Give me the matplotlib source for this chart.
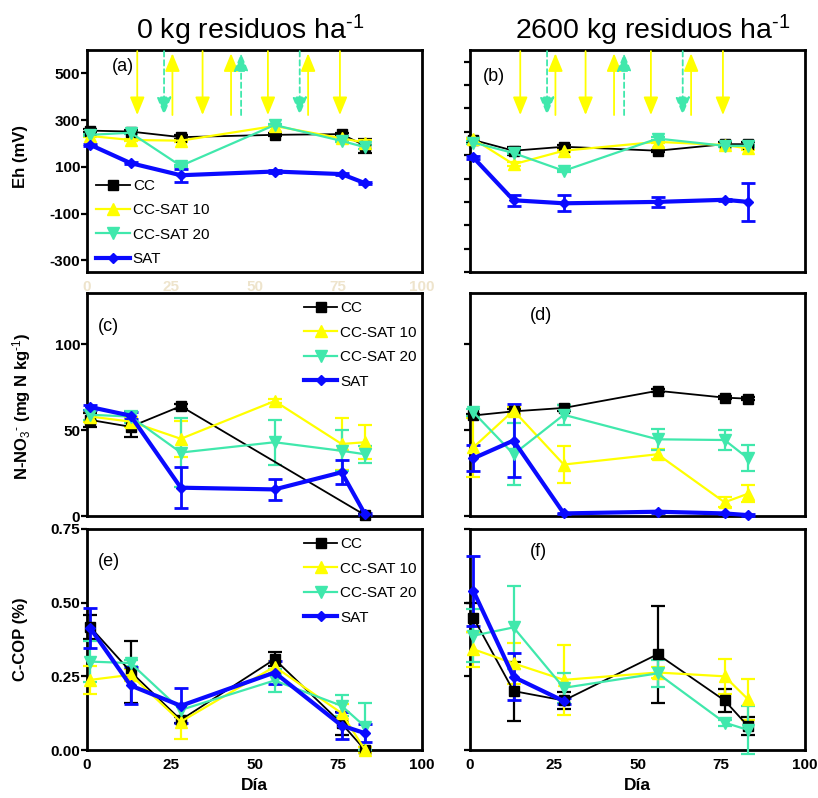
import numpy as np
import matplotlib
matplotlib.use("Agg")
import matplotlib.pyplot as plt

plt.rcParams["font.family"] = ["Liberation Sans", "DejaVu Sans"]
plt.rcParams["mathtext.fontset"] = "custom"
plt.rcParams["mathtext.rm"] = "Liberation Sans"
plt.rcParams["mathtext.it"] = "Liberation Sans:italic"
plt.rcParams["mathtext.bf"] = "Liberation Sans:bold"
plt.rcParams["axes.unicode_minus"] = False

# ---------------- data ----------------
days = [1, 13, 28, 56, 76, 83]
series_names = ["CC", "CC-SAT 10", "CC-SAT 20", "SAT"]

# Eh (mV), 0 kg residuos
eh0_cc = [255, 251, 227, 237, 240, 190]
eh0_cc_err = [8, 8, 8, 6, 6, 30]
eh0_s10 = [232, 215, 212, 275, 222, 204]
eh0_s10_err = [5, 5, 5, 5, 5, 10]
eh0_s20 = [237, 246, 104, 279, 211, 184]
eh0_s20_err = [5, 5, 5, 5, 5, 8]
eh0_sat = [194, 116, 64, 80, 69, 30]
eh0_sat_err = [5, 5, 28, 5, 5, 5]

# Eh (mV), 2600 kg residuos
eh26_cc = [165, 119, 136, 119, 147, 147]
eh26_cc_err = [10, 18, 8, 5, 8, 10]
eh26_s10 = [169, 61, 119, 157, 143, 129]
eh26_s10_err = [5, 8, 5, 5, 5, 5]
eh26_s20 = [154, 109, 33, 171, 140, 140]
eh26_s20_err = [5, 5, 5, 5, 5, 5]
eh26_sat = [90, -93, -106, -100, -91, -100]
eh26_sat_err = [5, 24, 34, 20, 5, 82]

# N-NO3- (mg N kg-1), 0 kg residuos
no0_cc_days = [1, 13, 28, 83]
no0_cc = [56, 52, 64, 0.5]
no0_cc_err = [4, 6, 1.5, 0.5]
no0_s10 = [58, 55, 45, 67, 42, 43]
no0_s10_err = [3, 3, 10.5, 1, 15, 10]
no0_s20 = [59, 58, 37, 43, 38, 36]
no0_s20_err = [3, 3.5, 20, 13, 12, 5]
no0_sat = [63.5, 58.5, 16.5, 15.5, 25.5, 1]
no0_sat_err = [1.5, 2, 12, 6, 7, 0.5]

# N-NO3- (mg N kg-1), 2600 kg residuos
no26_cc = [58.6, 61, 63, 73, 69, 68.4]
no26_cc_err = [1, 1.5, 2, 1, 1, 1]
no26_s10 = [40, 61.5, 30, 36, 8, 13]
no26_s10_err = [17, 2, 11, 3, 3, 5]
no26_s20 = [60.5, 36, 59, 44.7, 44.3, 33.6]
no26_s20_err = [2, 18, 6, 6, 6, 7.5]
no26_sat = [33.6, 44, 1.5, 2.5, 1.5, 0.5]
no26_sat_err = [7.5, 21.5, 0.5, 0.5, 0.5, 0.5]

# C-COP (%), 0 kg residuos
cop0_cc = [0.417, 0.266, 0.102, 0.308, 0.09, 0.0]
cop0_cc_err = [0.04, 0.105, 0.01, 0.024, 0.04, 0.01]
cop0_s10 = [0.238, 0.255, 0.096, 0.283, 0.125, 0.0]
cop0_s10_err = [0.047, 0.02, 0.06, 0.02, 0.03, 0.01]
cop0_s20 = [0.30, 0.295, 0.136, 0.236, 0.15, 0.079]
cop0_s20_err = [0.07, 0.01, 0.02, 0.038, 0.035, 0.08]
cop0_sat = [0.413, 0.219, 0.15, 0.263, 0.083, 0.057]
cop0_sat_err = [0.068, 0.062, 0.06, 0.04, 0.045, 0.03]

# C-COP (%), 2600 kg residuos
cop26_cc = [0.449, 0.20, 0.168, 0.325, 0.168, 0.081]
cop26_cc_err = [0.05, 0.1, 0.03, 0.165, 0.04, 0.03]
cop26_s10 = [0.342, 0.294, 0.238, 0.263, 0.25, 0.172]
cop26_s10_err = [0.06, 0.07, 0.12, 0.02, 0.06, 0.07]
cop26_s20 = [0.388, 0.416, 0.211, 0.26, 0.093, 0.068]
cop26_s20_err = [0.09, 0.14, 0.05, 0.045, 0.01, 0.08]
cop26_sat_days = [1, 13, 28]
cop26_sat = [0.54, 0.248, 0.166]
cop26_sat_err = [0.12, 0.08, 0.01]

# flooding / draining events (days)
yellow_down_days = [15, 34.5, 54, 75.5]
yellow_up_days = [25.5, 43, 66]
green_down_days = [23, 63.5]
green_up_days = [46]

x_ticks = [0, 25, 50, 75, 100]
eh_ticks_left = [-300, -100, 100, 300, 500]
eh_ticks_right = [-400, -300, -200, -100, 0, 100, 200, 300, 400, 500]
no_ticks = [0, 50, 100]
cop_ticks = [0.00, 0.25, 0.50, 0.75]

# ---------------- styles ----------------
YELLOW = "#FFFF00"
GREEN = "#40E8AC"
BLUE = "#0A0AFF"
styles = {
    "CC": dict(color="black", marker="s", ms=7, lw=1.3, elw=1.6),
    "CC-SAT 10": dict(color=YELLOW, marker="^", ms=8.5, lw=1.6, elw=1.6),
    "CC-SAT 20": dict(color=GREEN, marker="v", ms=8.5, lw=1.6, elw=1.6),
    "SAT": dict(color=BLUE, marker="D", ms=5, lw=3.0, elw=2.0),
}

W, H = 818, 798
fig = plt.figure(figsize=(W / 100, H / 100), dpi=100)


def make_axes(x0, x1, ytop, ybot):
    return fig.add_axes([x0 / W, 1 - ybot / H, (x1 - x0) / W, (ybot - ytop) / H])


ax_a = make_axes(87, 422, 50, 272)
ax_b = make_axes(470, 805, 50, 272)
ax_c = make_axes(87, 422, 293, 516)
ax_d = make_axes(470, 805, 293, 516)
ax_e = make_axes(87, 422, 529, 750)
ax_f = make_axes(470, 805, 529, 750)


def draw(ax, data):
    handles = []
    for name, (xs, ys, es) in zip(series_names, data):
        st = styles[name]
        cont = ax.errorbar(xs, ys, yerr=es, color=st["color"], marker=st["marker"],
                           ms=st["ms"], lw=st["lw"], elinewidth=st["elw"],
                           capsize=5, capthick=st["elw"], mec=st["color"],
                           clip_on=False, zorder=3)
        handles.append(cont[0])
    return handles


def style_axes(ax, ylim, yticks, show_ylabels, xlabels=None, xcolor="black"):
    ax.set_xlim(0, 100)
    ax.set_ylim(*ylim)
    ax.set_yticks(yticks)
    ax.set_xticks(x_ticks)
    for s in ax.spines.values():
        s.set_linewidth(2.0)
    ax.tick_params(axis="y", direction="out", length=4, width=1.6,
                   labelsize=11, labelleft=show_ylabels, pad=1)
    ax.tick_params(axis="x", length=0, labelsize=11, pad=6,
                   labelbottom=xlabels is not None, labelcolor=xcolor)
    for lab in ax.get_yticklabels() + ax.get_xticklabels():
        lab.set_fontweight("bold")


def arrows(ax):
    tr = ax.get_xaxis_transform()
    low, top_ = 0.707, 0.995
    props = dict(arrowstyle="-|>,head_length=1.1,head_width=0.45",
                 mutation_scale=10, shrinkA=0, shrinkB=0, lw=1.3)
    for d in yellow_down_days:
        ax.annotate("", xy=(d, low), xytext=(d, top_), xycoords=tr, textcoords=tr,
                    arrowprops=dict(color=YELLOW, **props))
    for d in yellow_up_days:
        ax.annotate("", xy=(d, 0.985), xytext=(d, low), xycoords=tr, textcoords=tr,
                    arrowprops=dict(color=YELLOW, **props))
    for d in green_down_days:
        ax.annotate("", xy=(d, low), xytext=(d, top_), xycoords=tr, textcoords=tr,
                    arrowprops=dict(color=GREEN, ls=(0, (3, 2)), **props))
    for d in green_up_days:
        ax.annotate("", xy=(d, 0.985), xytext=(d, low), xycoords=tr, textcoords=tr,
                    arrowprops=dict(color=GREEN, ls=(0, (3, 2)), **props))


legend_kw = dict(frameon=False, fontsize=11, handlelength=2.2, handletextpad=0.2,
                 labelspacing=0.68)

# (a) Eh, 0 kg
h = draw(ax_a, [(days, eh0_cc, eh0_cc_err), (days, eh0_s10, eh0_s10_err),
                (days, eh0_s20, eh0_s20_err), (days, eh0_sat, eh0_sat_err)])
style_axes(ax_a, (-350, 600), eh_ticks_left, True, xlabels=True, xcolor="#EEE4CC")
arrows(ax_a)
ax_a.legend(h, series_names, loc="lower left", bbox_to_anchor=(0.0, -0.015),
            borderaxespad=0.2, **legend_kw)
ax_a.set_ylabel("Eh (mV)", fontsize=12, fontweight="bold")
ax_a.yaxis.set_label_coords(-0.175, 0.52)

# (b) Eh, 2600 kg
draw(ax_b, [(days, eh26_cc, eh26_cc_err), (days, eh26_s10, eh26_s10_err),
            (days, eh26_s20, eh26_s20_err), (days, eh26_sat, eh26_sat_err)])
style_axes(ax_b, (-400, 550), eh_ticks_right, False)
arrows(ax_b)

# (c) N-NO3, 0 kg
h = draw(ax_c, [(no0_cc_days, no0_cc, no0_cc_err), (days, no0_s10, no0_s10_err),
                (days, no0_s20, no0_s20_err), (days, no0_sat, no0_sat_err)])
style_axes(ax_c, (0, 130), no_ticks, True)
ax_c.legend(h, series_names, loc="upper right", bbox_to_anchor=(1.01, 1.0),
            borderaxespad=0.15, **legend_kw)
ax_c.set_ylabel("N-NO$_3$$^{\\text{-}}$ (mg N kg$^{\\text{-1}}$)", fontsize=12,
                fontweight="bold")
ax_c.yaxis.set_label_coords(-0.16, 0.49)

# (d) N-NO3, 2600 kg
draw(ax_d, [(days, no26_cc, no26_cc_err), (days, no26_s10, no26_s10_err),
            (days, no26_s20, no26_s20_err), (days, no26_sat, no26_sat_err)])
style_axes(ax_d, (0, 130), no_ticks, False)

# (e) C-COP, 0 kg
h = draw(ax_e, [(days, cop0_cc, cop0_cc_err), (days, cop0_s10, cop0_s10_err),
                (days, cop0_s20, cop0_s20_err), (days, cop0_sat, cop0_sat_err)])
style_axes(ax_e, (0, 0.75), cop_ticks, True, xlabels=True)
ax_e.legend(h, series_names, loc="upper right", bbox_to_anchor=(1.01, 1.0),
            borderaxespad=0.15, **legend_kw)
ax_e.set_ylabel("C-COP (%)", fontsize=12, fontweight="bold")
ax_e.yaxis.set_label_coords(-0.175, 0.50)
ax_e.set_xlabel("Día", fontsize=12.5, fontweight="bold", labelpad=4)

# (f) C-COP, 2600 kg
draw(ax_f, [(days, cop26_cc, cop26_cc_err), (days, cop26_s10, cop26_s10_err),
            (days, cop26_s20, cop26_s20_err), (cop26_sat_days, cop26_sat, cop26_sat_err)])
style_axes(ax_f, (0, 0.75), cop_ticks, False, xlabels=True)
ax_f.set_xlabel("Día", fontsize=12.5, fontweight="bold", labelpad=4)

# panel letters
for ax, lab, fx, fy in [(ax_a, "(a)", 0.075, 0.965), (ax_b, "(b)", 0.039, 0.92),
                        (ax_c, "(c)", 0.033, 0.89), (ax_d, "(d)", 0.179, 0.935),
                        (ax_e, "(e)", 0.033, 0.892), (ax_f, "(f)", 0.179, 0.937)]:
    ax.text(fx, fy, lab, transform=ax.transAxes, fontsize=13, va="top", ha="left")

# column headers
fig.text(250 / W, 1 - 39 / H, "0 kg residuos ha$^{\\text{-1}}$", fontsize=20.5,
         ha="center", va="baseline")
fig.text(653 / W, 1 - 39 / H, "2600 kg residuos ha$^{\\text{-1}}$", fontsize=20.5,
         ha="center", va="baseline")

fig.savefig("out.png", dpi=100)
